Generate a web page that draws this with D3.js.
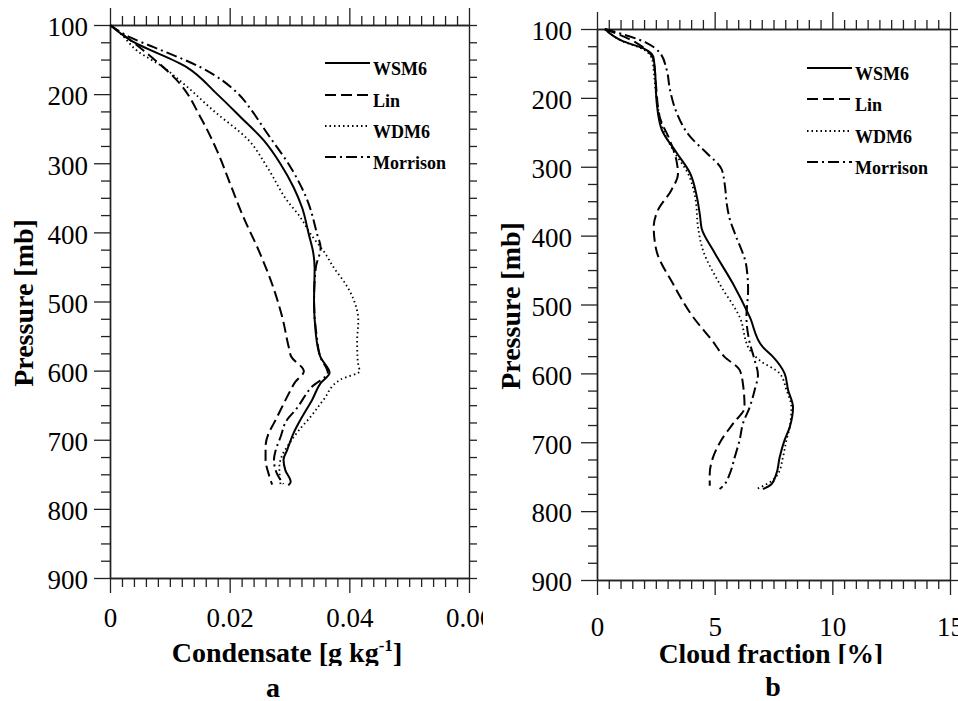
<!DOCTYPE html>
<html><head><meta charset="utf-8">
<script src="https://cdn.jsdelivr.net/npm/d3@7"></script>
<style>
body{margin:0;background:#fff}
svg{display:block}
text{font-family:"Liberation Serif","Times New Roman",serif;fill:#000}
</style>
</head><body>
<svg id="c" width="958" height="701"></svg>
<script>
// ---------- data ----------
const seriesNames = ["WSM6", "Lin", "WDM6", "Morrison"];
const pressureTicks = [100, 200, 300, 400, 500, 600, 700, 800, 900];
const pressureLabels = ["100", "200", "300", "400", "500", "600", "700", "800", "900"];
const condTicks = [0, 0.02, 0.04, 0.06];
const condLabels = ["0", "0.02", "0.04", "0.06"];
const cloudTicks = [0, 5, 10, 15];
const cloudLabels = ["0", "5", "10", "15"];

// [pressure (mb), condensate (g/kg)]
const condWSM6 = [[100,0],[122,0.0034],[161,0.0128],[200,0.0179],[233,0.0218],[267,0.0257],[301,0.0285],[335,0.0307],[364,0.0321],[402,0.0332],[431,0.0340],[451,0.0342],[499,0.0341],[547,0.0344],[581,0.0352],[603,0.0367],[618,0.0352],[642,0.0338],[667,0.0321],[690,0.0307],[715,0.0296],[729,0.0290],[744,0.0293],[761,0.0302],[766,0.0298]];
const condLin = [[100,0],[137,0.0056],[185,0.0117],[233,0.0151],[282,0.0179],[330,0.0201],[378,0.0223],[427,0.0249],[475,0.0271],[523,0.0288],[567,0.0299],[580,0.0303],[601,0.0324],[616,0.0310],[638,0.0296],[657,0.0285],[676,0.0274],[691,0.0265],[710,0.0260],[729,0.0260],[749,0.0265],[765,0.0271]];
const condWDM6 = [[100,0],[112,0.0017],[137,0.0045],[161,0.0089],[185,0.0123],[224,0.0173],[267,0.0232],[306,0.0263],[354,0.0296],[378,0.0318],[402,0.0335],[431,0.0360],[451,0.0374],[475,0.0394],[499,0.0408],[528,0.0415],[557,0.0413],[586,0.0414],[601,0.0417],[613,0.0385],[642,0.0357],[667,0.0335],[686,0.0316],[705,0.0300],[722,0.0288],[740,0.0283],[765,0.0285]];
const condMorrison = [[100,0],[118,0.0034],[132,0.0073],[161,0.0151],[200,0.0215],[224,0.0237],[257,0.0263],[306,0.0302],[354,0.0330],[402,0.0346],[422,0.0352],[451,0.0344],[499,0.0341],[547,0.0345],[581,0.0352],[603,0.0364],[623,0.0338],[657,0.0310],[671,0.0296],[696,0.0285],[715,0.0277],[729,0.0274],[749,0.0279],[764,0.0290]];

// [pressure (mb), cloud fraction (%)]
const cloudWSM6 = [[100,0.33],[118,1.12],[128,1.97],[140,2.39],[159,2.46],[208,2.54],[246,2.75],[280,3.39],[309,3.95],[343,4.24],[372,4.38],[390,4.45],[421,4.93],[470,5.78],[518,6.49],[562,7.05],[576,7.48],[600,7.97],[624,8.12],[649,8.33],[678,8.19],[697,7.97],[722,7.76],[746,7.62],[761,7.41],[768,7.05]];
const cloudLin = [[100,0.33],[120,1.67],[145,2.4],[179,2.5],[227,2.66],[261,3.09],[290,3.37],[310,3.44],[334,3.16],[363,2.59],[387,2.41],[421,2.52],[470,3.23],[518,4.08],[551,4.86],[576,5.42],[595,6.06],[615,6.2],[649,6.27],[673,5.78],[697,5.28],[722,4.93],[746,4.79],[763,4.79]];
const cloudWDM6 = [[100,0.33],[118,1.1],[130,2.0],[145,2.35],[164,2.42],[198,2.52],[251,2.87],[276,3.23],[310,3.87],[348,4.19],[387,4.29],[421,4.5],[470,5.21],[518,6.06],[566,6.49],[581,6.91],[600,7.76],[624,8.05],[649,8.26],[678,8.19],[697,8.05],[722,7.9],[746,7.69],[761,7.2],[768,6.77]];
const cloudMorrison = [[100,0.33],[120,2.1],[135,2.68],[159,2.96],[188,3.1],[222,3.39],[256,3.95],[280,4.66],[304,5.3],[329,5.44],[353,5.51],[377,5.65],[396,5.85],[445,6.35],[479,6.42],[518,6.35],[551,6.46],[581,6.7],[602,6.84],[624,6.7],[649,6.49],[673,6.2],[697,6.06],[722,5.85],[746,5.64],[761,5.42],[768,5.21]];

// ---------- styles ----------
const dashes = {WSM6: null, Lin: "11,5", WDM6: "1.5,3", Morrison: "11,4,2,4"};

const svg = d3.select("#c");
const defs = svg.append("defs");

function panel(cfg) {
  defs.append("clipPath").attr("id", "clip-" + cfg.id)
    .append("rect").attr("x", cfg.clipX0).attr("y", 0).attr("width", cfg.clipX1 - cfg.clipX0).attr("height", 701);
  defs.append("clipPath").attr("id", "tclip-" + cfg.id)
    .append("rect").attr("x", 0).attr("y", 0).attr("width", 958).attr("height", cfg.titleClipY);

  const g = svg.append("g").attr("clip-path", `url(#clip-${cfg.id})`);
  const x = d3.scaleLinear().domain(cfg.xDomain).range([cfg.left, cfg.right]);
  const y = d3.scaleLinear().domain([100, 900]).range([cfg.top, cfg.bottom]);

  const pMinor = d3.range(0, 33).map(i => 100 + i * 25).filter(v => v % 100 !== 0);
  const xMinor = d3.range(0, 31).map(i => cfg.xDomain[0] + i * cfg.xMinorStep).filter(v => !cfg.xMajor.some(m => Math.abs(m - v) < 1e-9));
  const pAll = d3.range(0, 33).map(i => 100 + i * 25);

  function style(sel) {
    sel.attr("font-size", null).attr("font-family", null);
    sel.selectAll("path.domain").attr("stroke", "#222").attr("stroke-width", 1.4);
    sel.selectAll(".tick line").attr("stroke", "#222").attr("stroke-width", 1.3);
    sel.selectAll(".tick text").attr("font-size", 27).attr("fill", "#000")
      .style("font-family", '"Liberation Serif","Times New Roman",serif');
  }

  // bottom
  g.append("g").attr("transform", `translate(0,${cfg.bottom})`)
    .call(d3.axisBottom(x).tickValues(xMinor).tickSize(9).tickSizeOuter(0).tickFormat(""))
    .call(style);
  g.append("g").attr("transform", `translate(0,${cfg.bottom})`)
    .call(d3.axisBottom(x).tickValues(cfg.xMajor).tickSize(15).tickSizeOuter(0).tickPadding(cfg.xPad).tickFormat((d, i) => cfg.xLabels[i]))
    .call(style);
  // top
  g.append("g").attr("transform", `translate(0,${cfg.top})`)
    .call(d3.axisTop(x).tickValues(xMinor).tickSize(9).tickSizeOuter(0).tickFormat(""))
    .call(style);
  g.append("g").attr("transform", `translate(0,${cfg.top})`)
    .call(d3.axisTop(x).tickValues(cfg.xMajor).tickSize(17).tickSizeOuter(0).tickFormat(""))
    .call(style);
  // left
  g.append("g").attr("transform", `translate(${cfg.left},0)`)
    .call(d3.axisLeft(y).tickValues(pMinor).tickSize(9).tickSizeOuter(0).tickFormat(""))
    .call(style);
  const la = g.append("g").attr("transform", `translate(${cfg.left},0)`)
    .call(d3.axisLeft(y).tickValues(pressureTicks).tickSize(16).tickSizeOuter(0).tickPadding(cfg.yPad).tickFormat((d, i) => pressureLabels[i]))
    .call(style);
  la.selectAll(".tick text").attr("dy", "0.40em");
  // right
  g.append("g").attr("transform", `translate(${cfg.right},0)`)
    .call(d3.axisRight(y).tickValues(pAll).tickSize(8).tickSizeOuter(0).tickFormat(""))
    .call(style);

  // lines
  const line = d3.line().x(d => x(d[1])).y(d => y(d[0])).curve(d3.curveMonotoneY);
  cfg.series.forEach((s, i) => {
    g.append("path").datum(s).attr("d", line)
      .attr("fill", "none").attr("stroke", "#000")
      .attr("stroke-width", seriesNames[i] === "WDM6" ? 1.8 : 2)
      .attr("stroke-dasharray", dashes[seriesNames[i]]);
  });

  // legend
  seriesNames.forEach((n, i) => {
    const ly = cfg.legendY[i];
    g.append("line").attr("x1", cfg.legendX).attr("x2", cfg.legendX + 45)
      .attr("y1", ly).attr("y2", ly).attr("stroke", "#000").attr("stroke-width", 2)
      .attr("stroke-dasharray", dashes[n]);
    g.append("text").attr("x", cfg.legendX + 48).attr("y", ly + 12)
      .attr("font-size", 18).attr("font-weight", "bold").text(n);
  });

  // y title
  g.append("text").attr("transform", `translate(${cfg.yTitleX},${cfg.yTitleY}) rotate(-90)`)
    .attr("text-anchor", "middle").attr("font-size", 28).attr("font-weight", "bold")
    .text("Pressure [mb]");

  // x title (clipped at bottom)
  const xt = svg.append("g").attr("clip-path", `url(#tclip-${cfg.id})`)
    .append("text").attr("x", cfg.xTitleX).attr("y", cfg.xTitleY)
    .attr("text-anchor", "middle").attr("font-size", cfg.xTitleSize).attr("font-weight", "bold");
  cfg.xTitle(xt);

  svg.append("text").attr("x", cfg.letterX).attr("y", cfg.letterY)
    .attr("text-anchor", "middle").attr("font-size", 28).attr("font-weight", "bold").text(cfg.letter);
}

panel({
  id: "a", left: 110, right: 469, top: 25, bottom: 578,
  xDomain: [0, 0.06], xMajor: condTicks, xLabels: condLabels, xMinorStep: 0.002,
  xPad: 15, yPad: 6, clipX0: 0, clipX1: 483,
  series: [condWSM6, condLin, condWDM6, condMorrison],
  legendX: 325, legendY: [63, 95, 126, 157],
  yTitleX: 33, yTitleY: 303,
  xTitleX: 287, xTitleY: 662, xTitleSize: 28, titleClipY: 666,
  xTitle: t => {
    t.append("tspan").text("Condensate [g kg");
    t.append("tspan").attr("font-size", 17).attr("dy", -11).text("-1");
    t.append("tspan").attr("dy", 11).text("]");
  },
  letter: "a", letterX: 273, letterY: 697
});

panel({
  id: "b", left: 597, right: 950, top: 29, bottom: 580,
  xDomain: [0, 15], xMajor: cloudTicks, xLabels: cloudLabels, xMinorStep: 0.5,
  xPad: 22, yPad: 9, clipX0: 483, clipX1: 958,
  series: [cloudWSM6, cloudLin, cloudWDM6, cloudMorrison],
  legendX: 807, legendY: [68, 99, 131, 162],
  yTitleX: 520, yTitleY: 306,
  xTitleX: 771, xTitleY: 663, xTitleSize: 27.5, titleClipY: 664,
  xTitle: t => { t.text("Cloud fraction [%]"); },
  letter: "b", letterX: 773, letterY: 696
});
</script>
</body></html>
